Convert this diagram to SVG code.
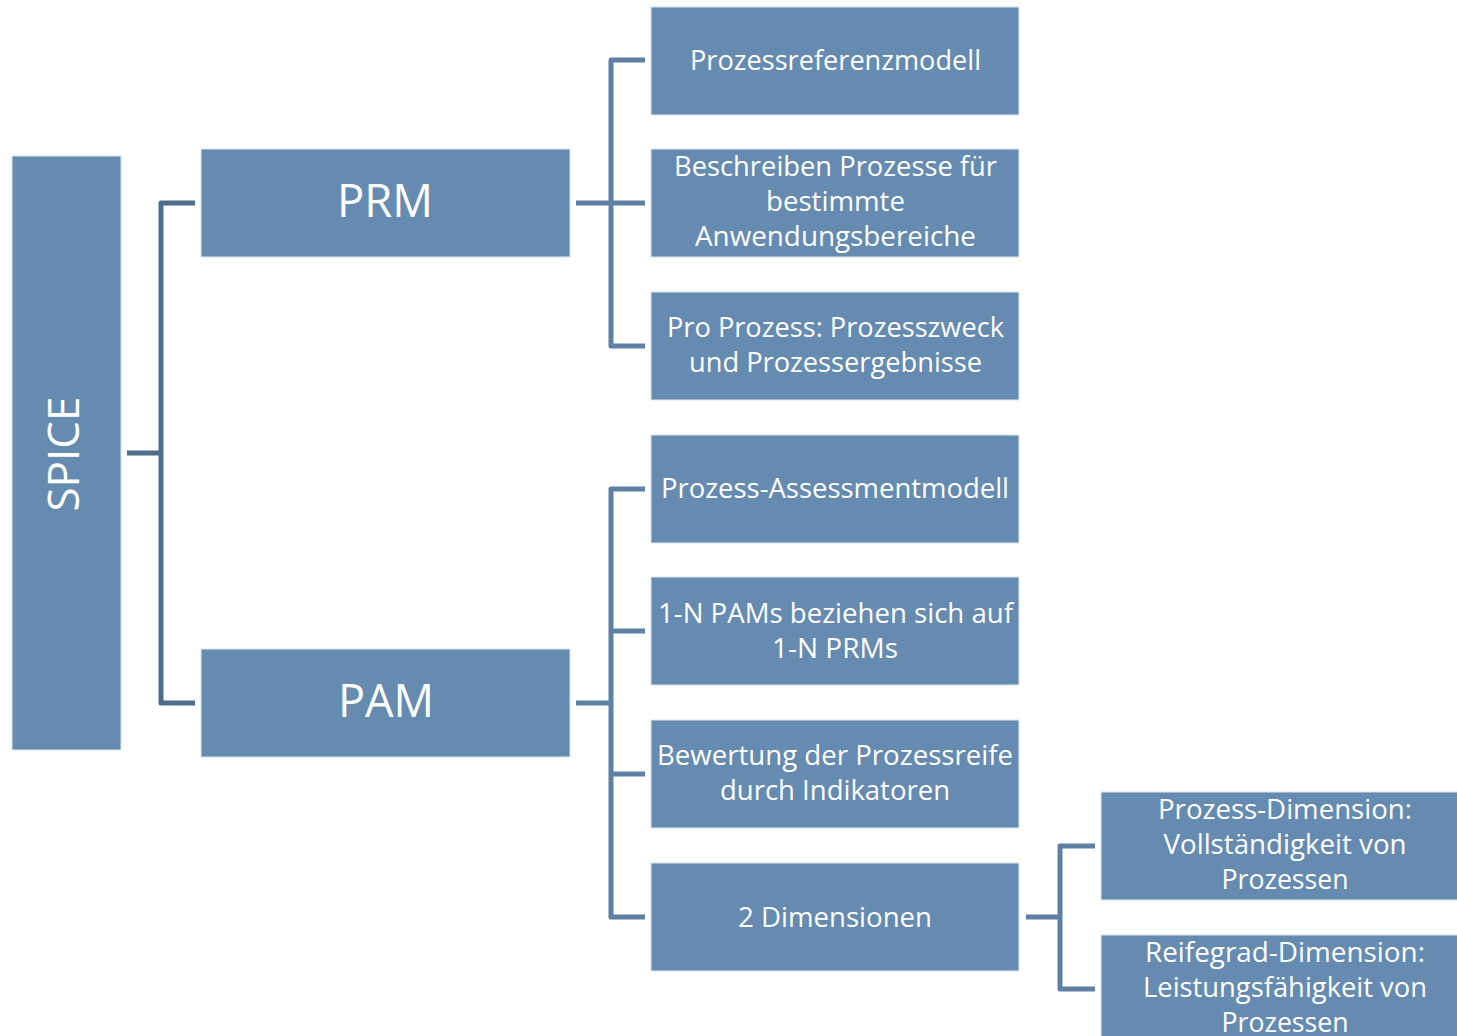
<svg xmlns="http://www.w3.org/2000/svg" width="1457" height="1036" viewBox="0 0 1457 1036">
<style>
.box{fill:#658BB1;stroke:#DCE6F0;stroke-width:1}
.t{font-family:"Open Sans","Liberation Sans",sans-serif;font-size:27px;fill:#FFFFFF;text-anchor:middle}
.big{font-size:46px}
.c1{fill:none;stroke:#4E6D8C;stroke-width:5;stroke-linejoin:round}
.c2{fill:none;stroke:#5D80A4;stroke-width:5;stroke-linejoin:round}
</style>
<rect width="1457" height="1036" fill="#FFFFFF"/>
<g id="connectors">
<path class="c1" d="M127,453 H161 M195,203 H161 V703 H195"/>
<path class="c2" d="M576,203 H645 M645,60 H611 V346 H645"/>
<path class="c2" d="M576,703 H611 M645,489 H611 V917 H645 M611,631 H645 M611,774 H645"/>
<path class="c2" d="M1026,917 H1060 M1095,846 H1060 V989 H1095"/>
</g>
<g id="spice">
<rect class="box" x="12" y="156" width="109" height="594"/>
<text class="t" transform="translate(78.5,454) rotate(-90)" style="font-size:43px" textLength="115" lengthAdjust="spacingAndGlyphs">SPICE</text>
</g>
<g id="prm">
<rect class="box" x="201" y="149" width="369" height="108"/>
<text class="t big" x="385" y="217" textLength="96" lengthAdjust="spacingAndGlyphs">PRM</text>
</g>
<g id="pam">
<rect class="box" x="201" y="649" width="369" height="108"/>
<text class="t big" x="386" y="717" textLength="96" lengthAdjust="spacingAndGlyphs">PAM</text>
</g>
<g id="prm-1">
<rect class="box" x="651" y="7" width="368" height="108"/>
<text class="t" x="835.5" y="69.5" textLength="291" lengthAdjust="spacingAndGlyphs">Prozessreferenzmodell</text>
</g>
<g id="prm-2">
<rect class="box" x="651" y="149" width="368" height="108"/>
<text class="t" x="835.5" y="176" textLength="323" lengthAdjust="spacingAndGlyphs">Beschreiben Prozesse für</text>
<text class="t" x="835.5" y="211" textLength="139" lengthAdjust="spacingAndGlyphs">bestimmte</text>
<text class="t" x="835.5" y="246" textLength="281" lengthAdjust="spacingAndGlyphs">Anwendungsbereiche</text>
</g>
<g id="prm-3">
<rect class="box" x="651" y="292" width="368" height="108"/>
<text class="t" x="835.5" y="337" textLength="337" lengthAdjust="spacingAndGlyphs">Pro Prozess: Prozesszweck</text>
<text class="t" x="835.5" y="372" textLength="293" lengthAdjust="spacingAndGlyphs">und Prozessergebnisse</text>
</g>
<g id="pam-1">
<rect class="box" x="651" y="435" width="368" height="108"/>
<text class="t" x="835" y="497.5" textLength="348" lengthAdjust="spacingAndGlyphs">Prozess-Assessmentmodell</text>
</g>
<g id="pam-2">
<rect class="box" x="651" y="577" width="368" height="108"/>
<text class="t" x="835.5" y="623" textLength="355" lengthAdjust="spacingAndGlyphs">1-N PAMs beziehen sich auf</text>
<text class="t" x="835" y="658" textLength="126" lengthAdjust="spacingAndGlyphs">1-N PRMs</text>
</g>
<g id="pam-3">
<rect class="box" x="651" y="720" width="368" height="108"/>
<text class="t" x="835" y="765" textLength="356" lengthAdjust="spacingAndGlyphs">Bewertung der Prozessreife</text>
<text class="t" x="835" y="800" textLength="230" lengthAdjust="spacingAndGlyphs">durch Indikatoren</text>
</g>
<g id="pam-4">
<rect class="box" x="651" y="863" width="368" height="108"/>
<text class="t" x="835" y="926.5" textLength="194" lengthAdjust="spacingAndGlyphs">2 Dimensionen</text>
</g>
<g id="dim-1">
<rect class="box" x="1101" y="792" width="368" height="108"/>
<text class="t" x="1285" y="819" textLength="254" lengthAdjust="spacingAndGlyphs">Prozess-Dimension:</text>
<text class="t" x="1285" y="854" textLength="243" lengthAdjust="spacingAndGlyphs">Vollständigkeit von</text>
<text class="t" x="1285" y="889" textLength="127" lengthAdjust="spacingAndGlyphs">Prozessen</text>
</g>
<g id="dim-2">
<rect class="box" x="1101" y="935" width="368" height="108"/>
<text class="t" x="1285" y="962" textLength="280" lengthAdjust="spacingAndGlyphs">Reifegrad-Dimension:</text>
<text class="t" x="1285" y="997" textLength="284" lengthAdjust="spacingAndGlyphs">Leistungsfähigkeit von</text>
<text class="t" x="1285" y="1032" textLength="127" lengthAdjust="spacingAndGlyphs">Prozessen</text>
</g>
</svg>
